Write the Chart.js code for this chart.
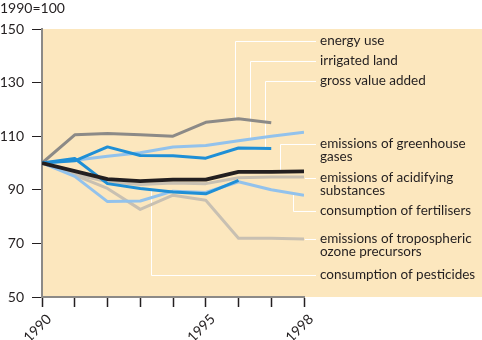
<!DOCTYPE html>
<html>
<head>
  <title>Agriculture indicators 1990-1998</title>
  <script src="https://cdn.jsdelivr.net/npm/chart.js"></script>
  <style>
    body {
      margin: 0;
      padding: 0;
      background-color: #ffffff;
    }
    canvas {
      display: block;
    }
  </style>
</head>
<body>
  <canvas id="indexChart" width="482" height="340"></canvas>
  <script>
    // Index values, 1990 = 100
    const years = [1990, 1991, 1992, 1993, 1994, 1995, 1996, 1997, 1998];
    const yearLabels = [1990, 1995, 1998];
    const yTicks = [50, 70, 90, 110, 130, 150];

    const energyUse = [100, 110.5, 111, 110.5, 110, 115.2, 116.5, 115];
    const irrigatedLand = [100, 101, 102.5, 103.8, 106, 106.5, 108.3, 110, 111.5];
    const grossValueAdded = [100, 100.8, 106, 102.8, 102.7, 101.8, 105.6, 105.4];
    const greenhouseGases = [100, 97, 94, 93.2, 93.8, 93.8, 96.7, 96.7, 96.9];
    const acidifying = [100, 95.8, 93, 92, 92.5, 92.3, 94.5, 94.8, 94.8];
    const fertilisers = [100, 95, 85.6, 85.8, 89.5, 89, 93, 90, 88];
    const ozonePrecursors = [100, 95.5, 90.5, 82.7, 88, 86.1, 71.9, 71.9, 71.6];
    const pesticides = [100, 101.7, 92.3, 90.5, 89.2, 88.5, 93.5];

    const FONT = 'Lato, "Open Sans", sans-serif';
    const INK = '#231f20';

    function points(values) {
      return values.map((v, i) => ({ x: years[i], y: v }));
    }

    // value of a series at a fractional year, used to end a leader on its line
    function valueAt(values, year) {
      const i = Math.min(Math.floor(year - years[0]), values.length - 2);
      const t = year - years[i];
      return values[i] + (values[i + 1] - values[i]) * t;
    }

    const seriesList = [
      { name: 'greenhouse', data: greenhouseGases, color: '#231f20', width: 3.8, order: 1 },
      { name: 'pesticides', data: pesticides, color: '#1f8fd6', width: 3, order: 2 },
      { name: 'gva', data: grossValueAdded, color: '#1f8fd6', width: 3, order: 3 },
      { name: 'irrigated', data: irrigatedLand, color: '#92c2ec', width: 3, order: 4 },
      { name: 'fertilisers', data: fertilisers, color: '#92c2ec', width: 3, order: 5 },
      { name: 'acidifying', data: acidifying, color: '#c8c0b2', width: 3, order: 6 },
      { name: 'ozone', data: ozonePrecursors, color: '#c8c0b2', width: 3, order: 7 },
      { name: 'energy', data: energyUse, color: '#8c8a87', width: 3, order: 8 }
    ];

    // labels at the right; `at` is the year where the leader drops onto the line
    const callouts = [
      { lines: ['energy use'], y: 41, series: energyUse, at: 1995.9 },
      { lines: ['irrigated land'], y: 61, series: irrigatedLand, at: 1996.35 },
      { lines: ['gross value added'], y: 81, series: grossValueAdded, at: 1996.8 },
      { lines: ['emissions of greenhouse', 'gases'], y: 144, series: greenhouseGases, at: 1997.27 },
      { lines: ['emissions of acidifying', 'substances'], y: 178, series: null },
      { lines: ['consumption of fertilisers'], y: 211, series: fertilisers, at: 1997.66 },
      { lines: ['emissions of tropospheric', 'ozone precursors'], y: 239, series: null },
      { lines: ['consumption of pesticides'], y: 275, series: pesticides, at: 1993.33 }
    ];

    const panel = {
      id: 'panel',
      beforeDraw(chart) {
        const { ctx, chartArea } = chart;
        ctx.save();
        ctx.fillStyle = '#fce7be';
        ctx.fillRect(chartArea.left, chartArea.top, chart.width - chartArea.left, chartArea.bottom - chartArea.top);
        ctx.fillStyle = INK;
        ctx.font = '14px ' + FONT;
        ctx.textBaseline = 'middle';
        ctx.fillText('1990=100', 0, 8);
        ctx.restore();
      },
      beforeDatasetsDraw(chart) {
        const { ctx } = chart;
        const xs = chart.scales.x;
        const ys = chart.scales.y;
        const textX = xs.right + 16;
        ctx.save();
        ctx.strokeStyle = '#ffffff';
        ctx.lineWidth = 1;
        callouts.forEach(c => {
          const y = Math.round(c.y) + 0.5;
          ctx.beginPath();
          if (c.series) {
            const x = Math.round(xs.getPixelForValue(c.at)) + 0.5;
            ctx.moveTo(textX - 4, y);
            ctx.lineTo(x, y);
            ctx.lineTo(x, ys.getPixelForValue(valueAt(c.series, c.at)));
          } else {
            ctx.moveTo(xs.right + 1, y);
            ctx.lineTo(textX - 4, y);
          }
          ctx.stroke();
        });
        ctx.restore();
      },
      afterDraw(chart) {
        const { ctx } = chart;
        const textX = chart.scales.x.right + 16;
        ctx.save();
        ctx.fillStyle = INK;
        ctx.font = '13.5px ' + FONT;
        ctx.textBaseline = 'middle';
        callouts.forEach(c => {
          c.lines.forEach((line, i) => ctx.fillText(line, textX, c.y + i * 13));
        });
        ctx.restore();
      }
    };

    new Chart(document.getElementById('indexChart'), {
      type: 'line',
      data: {
        datasets: seriesList.map(s => ({
          label: s.name,
          data: points(s.data),
          borderColor: s.color,
          borderWidth: s.width,
          order: s.order,
          fill: false
        }))
      },
      options: {
        responsive: false,
        animation: false,
        layout: { padding: { top: 29, right: 178, left: 0, bottom: 0 } },
        elements: {
          point: { radius: 0 },
          line: { tension: 0, borderJoinStyle: 'round' }
        },
        plugins: {
          legend: { display: false },
          tooltip: { enabled: false }
        },
        scales: {
          x: {
            type: 'linear',
            min: years[0],
            max: years[years.length - 1],
            afterBuildTicks: scale => { scale.ticks = years.map(v => ({ value: v })); },
            afterFit: scale => { scale.height = 43; },
            ticks: {
              autoSkip: false,
              minRotation: 45,
              maxRotation: 45,
              padding: 4,
              labelOffset: 7,
              color: INK,
              font: { family: FONT, size: 14 },
              callback: v => yearLabels.includes(v) ? String(v) : ''
            },
            grid: { drawOnChartArea: false, tickLength: 10, color: '#231f20', tickWidth: 1.5 },
            border: { color: '#8c8a87', width: 2 }
          },
          y: {
            min: 50,
            max: 150,
            afterBuildTicks: scale => { scale.ticks = yTicks.map(v => ({ value: v })); },
            afterFit: scale => { scale.width = 42; },
            ticks: {
              padding: 8,
              color: INK,
              font: { family: FONT, size: 14 }
            },
            grid: { drawOnChartArea: false, tickLength: 10, color: '#231f20', tickWidth: 1 },
            border: { color: '#8c8a87', width: 2 }
          }
        }
      },
      plugins: [panel]
    });
  </script>
</body>
</html>
